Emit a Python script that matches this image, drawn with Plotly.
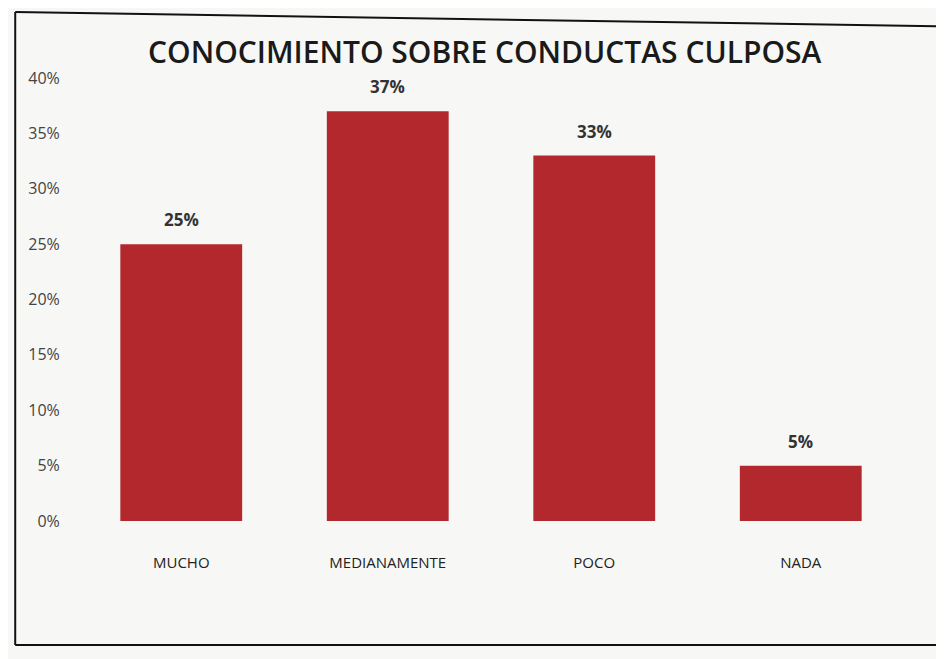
import plotly.graph_objects as go

categories = ["MUCHO", "MEDIANAMENTE", "POCO", "NADA"]
values = [0.25, 0.37, 0.33, 0.05]
labels = ["25%", "37%", "33%", "5%"]
tick_vals = [0, 0.05, 0.10, 0.15, 0.20, 0.25, 0.30, 0.35, 0.40]
tick_text = ["0%", "5%", "10%", "15%", "20%", "25%", "30%", "35%", "40%"]

fig = go.Figure(go.Bar(
    x=categories, y=values,
    marker=dict(color="#B3282D", line=dict(width=0)),
    hoverinfo="x+y",
))

annotations = [
    dict(x=c, y=v, text="<b>" + t + "</b>", showarrow=False,
         xref="x", yref="y", yanchor="bottom", yshift=11,
         font=dict(family="Open Sans", size=17, color="#333333"))
    for c, v, t in zip(categories, values, labels)
]

fig.update_layout(
    width=944, height=659,
    paper_bgcolor="#F7F8F6", plot_bgcolor="rgba(0,0,0,0)",
    margin=dict(l=70, r=48, t=70, b=146),
    bargap=0.41,
    showlegend=False,
    annotations=annotations,
    title=dict(text="CONOCIMIENTO SOBRE CONDUCTAS CULPOSA",
               font=dict(family="Open Sans", size=30, color="#1a1a1a", weight=600),
               x=0.505, xanchor="center", y=0.932, yanchor="middle"),
    xaxis=dict(showgrid=False, showline=False, zeroline=False,
               tickfont=dict(family="Open Sans", size=15, color="#222222"),
               ticks="outside", ticklen=28, tickcolor="rgba(0,0,0,0)"),
    yaxis=dict(range=[0, 0.4], tickvals=tick_vals, ticktext=tick_text,
               showgrid=False, showline=False, zeroline=False,
               tickfont=dict(family="Open Sans", size=16, color="#444444"),
               ticks="outside", ticklen=14, tickcolor="rgba(0,0,0,0)"),
    shapes=[
        dict(type="line", xref="paper", yref="paper",
             x0=-0.076, x1=-0.076, y0=1.149, y1=-0.28,
             line=dict(color="#111111", width=2)),
        dict(type="line", xref="paper", yref="paper",
             x0=-0.076, x1=1.1, y0=1.149, y1=1.115,
             line=dict(color="#111111", width=2)),
        dict(type="line", xref="paper", yref="paper",
             x0=-0.076, x1=1.1, y0=-0.28, y1=-0.28,
             line=dict(color="#111111", width=2)),
    ],
)

fig.write_html("out.html")
